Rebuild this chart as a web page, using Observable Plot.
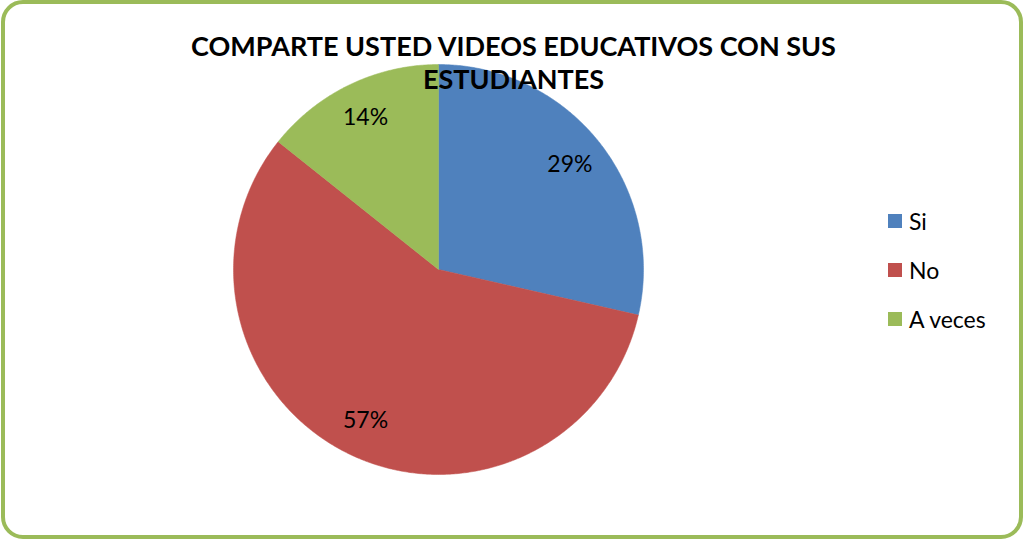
<!DOCTYPE html>
<html>
<head>
<meta charset="utf-8">
<script src="https://cdn.jsdelivr.net/npm/d3@7"></script>
<script src="https://cdn.jsdelivr.net/npm/@observablehq/plot@0.6"></script>
<style>
  html, body { margin: 0; padding: 0; background: #fff; }
  #wrap { position: relative; width: 1025px; height: 540px; overflow: hidden; font-family: Lato, "Open Sans", sans-serif; }
  #frame { position: absolute; left: 1px; top: 0px; width: 1022px; height: 539px; box-sizing: border-box;
           border: 4px solid #9BBB59; border-radius: 22px; pointer-events: none; }
  #chart { position: absolute; left: 0; top: 0; }
  #legend { position: absolute; left: 888px; top: 196px; }
  .item { display: flex; align-items: center; height: 49px; font-size: 23px; color: #000; }
  .sw { width: 14px; height: 14px; margin-right: 7px; }
</style>
</head>
<body>
<div id="wrap">
  <div id="chart"></div>
  <div id="legend"></div>
  <div id="frame"></div>
</div>
<script>
// ---- data ----
const categories = ["Si", "No", "A veces"];
const values = [2, 4, 1];
const percentLabels = ["29%", "57%", "14%"];
const colors = ["#4F81BD", "#C0504D", "#9BBB59"];
const titleLines = ["COMPARTE USTED VIDEOS EDUCATIVOS CON SUS", "ESTUDIANTES"];

// ---- layout ----
const W = 1025, H = 540;
const cx = 438, cy = 269, R = 205;
const labelR = 0.82 * R;

const rows = categories.map((c, i) => ({cat: c, value: values[i], label: percentLabels[i]}));
const arcs = d3.pie().sort(null).value(d => d.value)(rows);

// polygon points for each slice, sampled along the arc
const slicePts = [];
arcs.forEach(a => {
  const n = Math.max(2, Math.ceil((a.endAngle - a.startAngle) / (Math.PI / 360)));
  slicePts.push({cat: a.data.cat, x: cx, y: cy});
  for (let k = 0; k <= n; k++) {
    const t = a.startAngle + (a.endAngle - a.startAngle) * k / n;
    slicePts.push({cat: a.data.cat, x: cx + R * Math.sin(t), y: cy - R * Math.cos(t)});
  }
  slicePts.push({cat: a.data.cat, x: cx, y: cy});
});

const labelPts = arcs.map(a => {
  const m = (a.startAngle + a.endAngle) / 2;
  return {label: a.data.label, x: cx + labelR * Math.sin(m), y: cy - labelR * Math.cos(m)};
});

const titlePts = titleLines.map((t, i) => ({text: t, x: 513, y: 47 + i * 33}));

const chart = Plot.plot({
  width: W, height: H, margin: 0,
  x: {domain: [0, W], axis: null},
  y: {domain: [H, 0], axis: null},
  color: {domain: categories, range: colors},
  style: {fontFamily: "Lato, 'Open Sans', sans-serif", background: "transparent"},
  marks: [
    Plot.line(slicePts, {x: "x", y: "y", z: "cat", fill: "cat", stroke: "cat", strokeWidth: 0.5, curve: "linear"}),
    Plot.text(labelPts, {x: "x", y: "y", text: "label", fontSize: 23, fill: "#000"}),
    Plot.text(titlePts, {x: "x", y: "y", text: "text", fontSize: 27, fontWeight: "bold", fill: "#000"})
  ]
});
document.getElementById("chart").appendChild(chart);

// legend
const leg = document.getElementById("legend");
categories.forEach((c, i) => {
  const it = document.createElement("div");
  it.className = "item";
  const sw = document.createElement("div");
  sw.className = "sw";
  sw.style.background = colors[i];
  const tx = document.createElement("span");
  tx.textContent = c;
  it.appendChild(sw); it.appendChild(tx);
  leg.appendChild(it);
});
</script>
</body>
</html>
